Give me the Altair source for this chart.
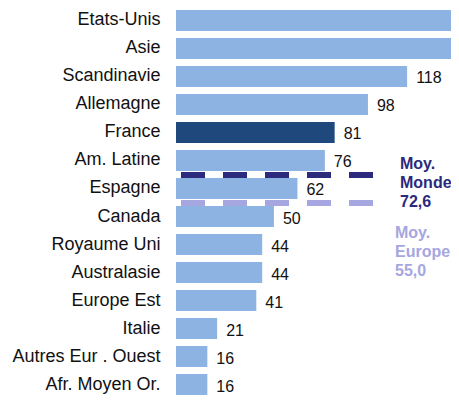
import altair as alt
import pandas as pd

categories = ["Etats-Unis", "Asie", "Scandinavie", "Allemagne", "France", "Am. Latine",
              "Espagne", "Canada", "Royaume Uni", "Australasie", "Europe Est", "Italie",
              "Autres Eur . Ouest", "Afr. Moyen Or."]
values = [180, 170, 118, 98, 81, 76, 62, 50, 44, 44, 41, 21, 16, 16]
highlight = "France"

avg_names = ["Monde", "Europe"]
avg_values = [72.6, 55.0]
avg_rows = ["Espagne", "Canada"]
avg_colors = ["#2B2A7C", "#A6A6E0"]

X_MAX = 140.4
FONT = "Liberation Sans"

df = pd.DataFrame({"category": categories, "value": values})
avg_df = pd.DataFrame({"name": avg_names, "avg": avg_values, "category": avg_rows, "color": avg_colors})

yenc = alt.Y("category:N", sort=categories,
             scale=alt.Scale(paddingInner=0.25, paddingOuter=0.0714, range=[0, 389]),
             axis=alt.Axis(title=None, ticks=False, domain=False, labelPadding=16,
                           labelFontSize=18, labelFont=FONT, labelColor="#111111",
                           labelLimit=300,
                           labelExpr="indexof(['Asie','France','Canada','Italie'], datum.label) >= 0 ? datum.label + '\u00a0' : datum.label"))
xenc = alt.X("value:Q", scale=alt.Scale(domain=[0, X_MAX], nice=False, zero=True), axis=None)

bars = alt.Chart(df).mark_bar(clip=True).encode(
    y=yenc, x=xenc,
    color=alt.condition(alt.datum.category == highlight, alt.value("#1F497D"), alt.value("#8DB3E2")),
)

labels = alt.Chart(df).transform_filter(alt.datum.value <= X_MAX).mark_text(
    align="left", baseline="middle", dx=9, dy=2, fontSize=16, font=FONT, color="#111111"
).encode(y=alt.Y("category:N", sort=categories), x=alt.X("value:Q"), text=alt.Text("value:Q"))

rules = alt.Chart(avg_df).mark_rule(strokeWidth=6, strokeDash=[24, 18], yOffset=-3).encode(
    y=alt.Y("category:N", sort=categories, bandPosition=0),
    x=alt.value(5), x2=alt.value(197),
    color=alt.Color("color:N", scale=None),
)

def avg_text(name, xpos, ypos):
    return alt.Chart(avg_df).transform_filter(alt.datum.name == name).transform_calculate(
        lab="'Moy.\\n' + datum.name + '\\n' + replace(format(datum.avg, '.1f'), '.', ',')"
    ).mark_text(align="left", baseline="middle", lineBreak="\n", fontSize=16, fontWeight="bold",
                font=FONT, lineHeight=19).encode(
        x=alt.value(xpos), y=alt.value(ypos), text="lab:N",
        color=alt.Color("color:N", scale=None))

chart = alt.layer(bars, labels, rules, avg_text("Monde", 224, 156), avg_text("Europe", 219, 225)).properties(
    width=275, height=387,
    autosize=alt.AutoSizeParams(type="none"),
    padding={"left": 168, "top": 0, "right": 0, "bottom": 0},
    background="white",
).configure_view(stroke=None)

chart.save("out.html", embed_options={"renderer": "svg", "actions": False})
